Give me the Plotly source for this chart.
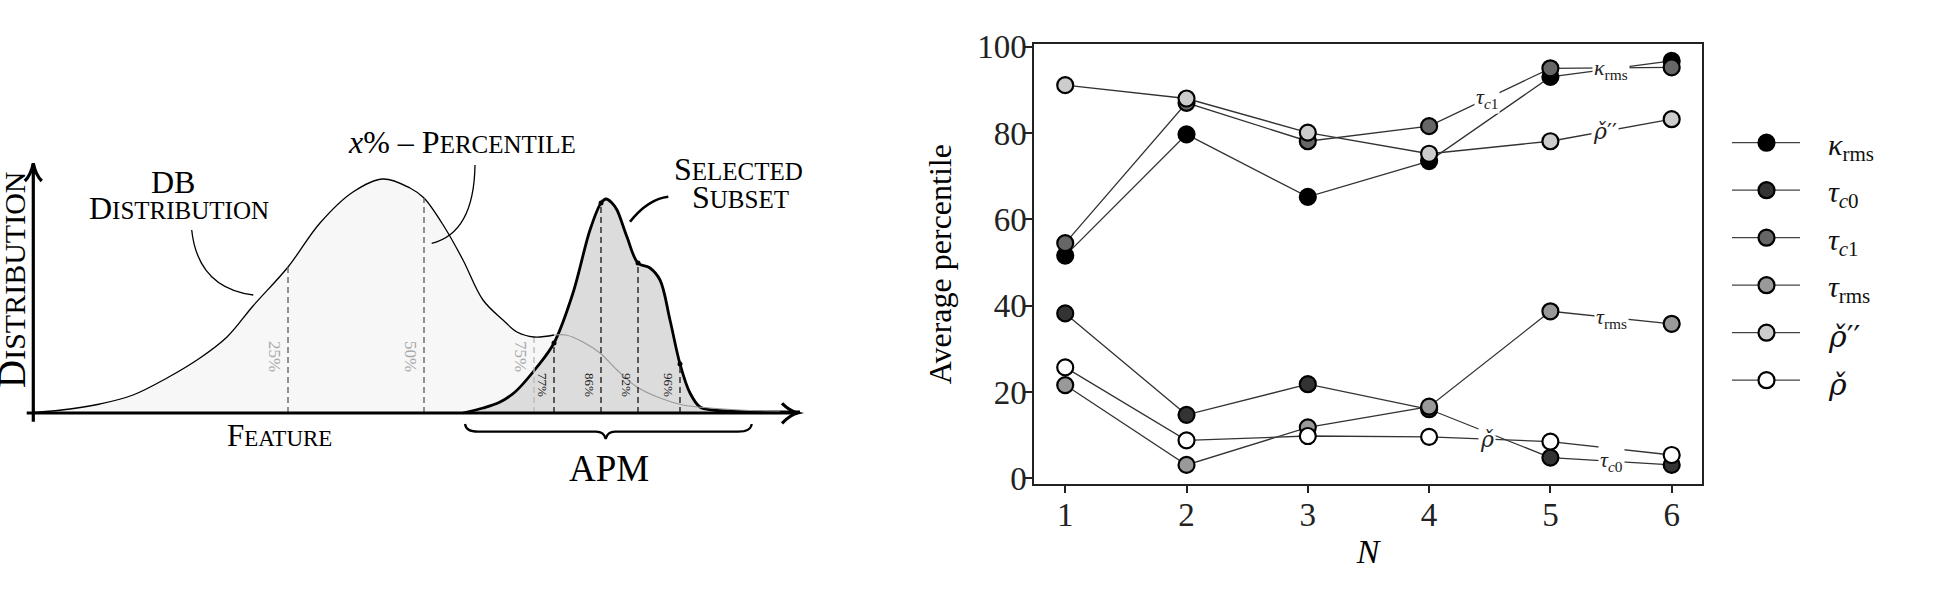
import numpy as np
import plotly.graph_objects as go

W, H = 1935, 608
FONT = "Liberation Serif"

# ---------------- right panel data ----------------
N = [1, 2, 3, 4, 5, 6]
kappa_rms = [51.6, 79.7, 65.2, 73.5, 93.0, 96.7]
tau_c0 = [38.2, 14.7, 21.8, 16.0, 4.8, 3.1]
tau_c1 = [54.5, 87.0, 78.1, 81.6, 95.0, 95.2]
tau_rms = [21.6, 3.1, 11.8, 16.6, 38.7, 35.8]
rho_pp = [91.1, 88.0, 80.1, 75.2, 78.1, 83.2]
rho = [25.7, 8.8, 9.8, 9.6, 8.5, 5.4]
y_ticks = [0, 20, 40, 60, 80, 100]

RHO = "<span style='font-family:DejaVu Serif'><i>ρ̌</i></span>"
series = [
    ("κrms", kappa_rms, "#000000", "<i>κ</i><sub>rms</sub>", 5.5),
    ("τc0", tau_c0, "#333333", "<i>τ</i><sub><i>c</i>0</sub>", 5.5),
    ("τc1", tau_c1, "#666666", "<i>τ</i><sub><i>c</i>1</sub>", 4.48),
    ("τrms", tau_rms, "#999999", "<i>τ</i><sub>rms</sub>", 5.5),
    ("ρ''", rho_pp, "#cccccc", RHO + "<span style='font-family:DejaVu Serif'>′′</span>", 5.45),
    ("ρ", rho, "#ffffff", RHO, 4.48),
]

# ---------------- left panel (schematic) ----------------
# feature: horizontal position, density: height above the feature axis
db_feature = [34, 70, 100, 133, 167, 200, 227, 253, 288, 320, 353, 383, 410, 424, 445,
              463, 483, 503, 517, 534, 554, 566, 583, 600, 617, 637, 660, 683, 710, 740, 780]
db_density = [0.5, 4, 9, 18, 35, 55, 76, 107, 146, 190, 221, 234, 225, 215, 185,
              153, 113, 93, 81, 76, 78, 78, 71, 60, 43, 26, 15, 8, 5, 3, 1.5]
sub_feature = [463, 483, 500, 515, 537, 554, 573, 590, 601, 606, 612, 617, 627, 638,
               650, 660, 670, 680, 690, 700, 713, 740, 800]
sub_density = [0, 5, 11, 21, 46, 70, 120, 183, 210, 214, 210, 203, 176, 150,
               145, 133, 93, 49, 20, 6, 3, 1.5, 1]
pct_labels = ["25%", "50%", "75%", "77%", "86%", "92%", "96%"]
pct_feature = [288, 424, 534, 554, 601, 638, 680]
pct_height = [146, 215, 75, 70, 210, 150, 49]

fig = go.Figure()
LX = dict(xaxis="x2", yaxis="y2", hoverinfo="skip", showlegend=False)

db_f = np.array(db_feature)
db_d = np.array(db_density)
head = db_f <= 554
tail = db_f >= 554

fig.add_trace(go.Scatter(x=db_feature, y=db_density, mode="lines",
                         line=dict(width=0, shape="spline", color="#f7f7f7"),
                         fill="tozeroy", fillcolor="#f7f7f7", **LX))
fig.add_trace(go.Scatter(x=db_f[head], y=db_d[head], mode="lines",
                         line=dict(color="black", width=1.3, shape="spline"), **LX))
fig.add_trace(go.Scatter(x=sub_feature, y=sub_density, mode="lines",
                         line=dict(color="black", width=2.8, shape="spline"),
                         fill="tozeroy", fillcolor="#dcdcdc", **LX))
fig.add_trace(go.Scatter(x=db_f[tail], y=db_d[tail], mode="lines",
                         line=dict(color="#9a9a9a", width=1.2, shape="spline"), **LX))

dash_col = ["#666666", "#666666", "#bbbbbb", "#222222", "#222222", "#222222", "#222222"]
lab_col = ["#aaaaaa", "#aaaaaa", "#aaaaaa", "#222222", "#222222", "#222222", "#222222"]
for i, (lab, f, h) in enumerate(zip(pct_labels, pct_feature, pct_height)):
    fig.add_trace(go.Scatter(x=[f, f], y=[0, h], mode="lines",
                             line=dict(color=dash_col[i], width=1.4, dash="6px,4px"), **LX))
    dark = i >= 3
    fig.add_annotation(xref="x2", yref="y2", x=f - (11 if dark else 13), y=28 if dark else 57,
                       text=lab, textangle=90, showarrow=False,
                       font=dict(size=13 if dark else 17, color=lab_col[i]))
fig.add_trace(go.Scatter(x=pct_feature[3:], y=pct_height[3:], mode="markers",
                         marker=dict(color="black", size=5), **LX))

# axes arrows of the schematic
ax_line = dict(color="black", width=3.2)
fig.add_shape(type="line", xref="x2", yref="y2", x0=26.7, x1=797, y0=0, y1=0, line=ax_line)
fig.add_shape(type="line", xref="x2", yref="y2", x0=33.3, x1=33.3, y0=-8.7, y1=249, line=ax_line)
fig.add_shape(type="path", xref="x2", yref="y2", line=ax_line,
              path="M 24.8,232 Q 31,238 33.3,249.7 Q 35.6,238 41.8,232")
fig.add_shape(type="path", xref="x2", yref="y2", line=ax_line,
              path="M 782,9.7 Q 790,2 797.7,0 Q 790,-2 782,-10.3")

# brace under APM and the leader curves
fig.add_shape(type="path", xref="x2", yref="y2", line=dict(color="black", width=2.2),
              path="M 465,-11 Q 466,-18.7 478,-18.7 L 596,-18.7 Q 604,-18.7 605.7,-26 "
                   "Q 607.5,-18.7 615,-18.7 L 738,-18.7 Q 751,-18.7 751.7,-11")
fig.add_shape(type="path", xref="x2", yref="y2", line=dict(color="black", width=1.3),
              path="M 191.7,183 Q 198,125 253.3,118")
fig.add_shape(type="path", xref="x2", yref="y2", line=dict(color="black", width=1.3),
              path="M 475,248 Q 474,180 431.7,169.7")
fig.add_shape(type="path", xref="x2", yref="y2", line=dict(color="black", width=2.6),
              path="M 668.3,216.3 Q 648,214 630,191.3")


def sc(big, rest, s):
    # small caps: capital first letter, the rest in smaller capitals
    return f"{big}<span style='font-size:{s}px'>{rest}</span>"


texts = [
    ("DB", 173.3, 231.3, 32, 0),
    (sc("D", "ISTRIBUTION", 25), 179, 204.7, 32, 0),
    ("<i>x</i>% – " + sc("P", "ERCENTILE", 25), 461.7, 271, 32, 0),
    (sc("S", "ELECTED", 25), 738.5, 244, 32, 0),
    (sc("S", "UBSET", 25), 740, 216.5, 32, 0),
    (sc("F", "EATURE", 23), 279, -22, 31, 0),
    ("APM", 609, -55, 37, 0),
    (sc("D", "ISTRIBUTION", 30), 11, 133, 39, -90),
]
for t, x, y, s, ang in texts:
    fig.add_annotation(xref="x2", yref="y2", x=x, y=y, text=t, showarrow=False,
                       textangle=ang, font=dict(size=s, color="black"))

# ---------------- right panel ----------------
for name, vals, col, lab, lx in series:
    fig.add_trace(go.Scatter(x=N, y=vals, mode="lines+markers", name=name, showlegend=False,
                             line=dict(color="#333333", width=1.3),
                             marker=dict(size=16, color=col, line=dict(color="black", width=2.2))))
for name, vals, col, lab, lx in series:
    fig.add_annotation(x=lx, y=float(np.interp(lx, N, vals)), xref="x", yref="y", text=lab,
                       showarrow=False, bgcolor="white", borderpad=1,
                       font=dict(size=22, color="#222222"))

# legend drawn on its own axes
leg_top, leg_step = 142.7, 47.5
for i, (name, vals, col, lab, lx) in enumerate(series):
    ry = leg_top + i * leg_step
    fig.add_trace(go.Scatter(x=[1732, 1800], y=[ry, ry], mode="lines", xaxis="x3", yaxis="y3",
                             showlegend=False, hoverinfo="skip",
                             line=dict(color="#444444", width=1.3)))
    fig.add_trace(go.Scatter(x=[1766.5], y=[ry], mode="markers", xaxis="x3", yaxis="y3",
                             showlegend=False, hoverinfo="skip",
                             marker=dict(size=16, color=col, line=dict(color="black", width=2.2))))
    fig.add_annotation(xref="x3", yref="y3", x=1826, y=ry + 4, xanchor="left", text=lab,
                       showarrow=False, font=dict(size=30, color="#111111"))

axis_common = dict(ticks="outside", ticklen=7, tickwidth=1.8, tickcolor="#222222",
                   showline=True, linecolor="#222222", linewidth=2, mirror=True,
                   showgrid=False, zeroline=False, automargin=False,
                   tickfont=dict(size=33, color="#222222"))

fig.update_layout(
    width=W, height=H, margin=dict(l=0, r=0, t=0, b=0),
    paper_bgcolor="white", plot_bgcolor="white", template=None,
    font=dict(family=FONT, color="black"), showlegend=False,
    xaxis=dict(domain=[1034.3 / W, 1702 / W], range=[0.745, 6.25], tickvals=N, anchor="y",
               ticklabelstandoff=-7,
               title=dict(text="<i>N</i>", font=dict(size=34), standoff=7), **axis_common),
    yaxis=dict(domain=[1 - 484.3 / H, 1 - 44 / H], range=[-1.39, 100.63], tickvals=y_ticks,
               anchor="x", ticklabelstandoff=-8,
               title=dict(text="Average percentile", font=dict(size=32), standoff=16),
               **axis_common),
    xaxis2=dict(domain=[0, 0.45], range=[0, 0.45 * W], visible=False, anchor="y2"),
    yaxis2=dict(domain=[0, 1], range=[-195, 413], visible=False, anchor="x2"),
    xaxis3=dict(domain=[1712 / W, 1], range=[1712, W], visible=False, anchor="y3"),
    yaxis3=dict(domain=[0, 1], range=[H, 0], visible=False, anchor="x3"),
)

fig.write_html("out.html", config={"displayModeBar": False},
               post_script="document.body.style.margin='0px';")
